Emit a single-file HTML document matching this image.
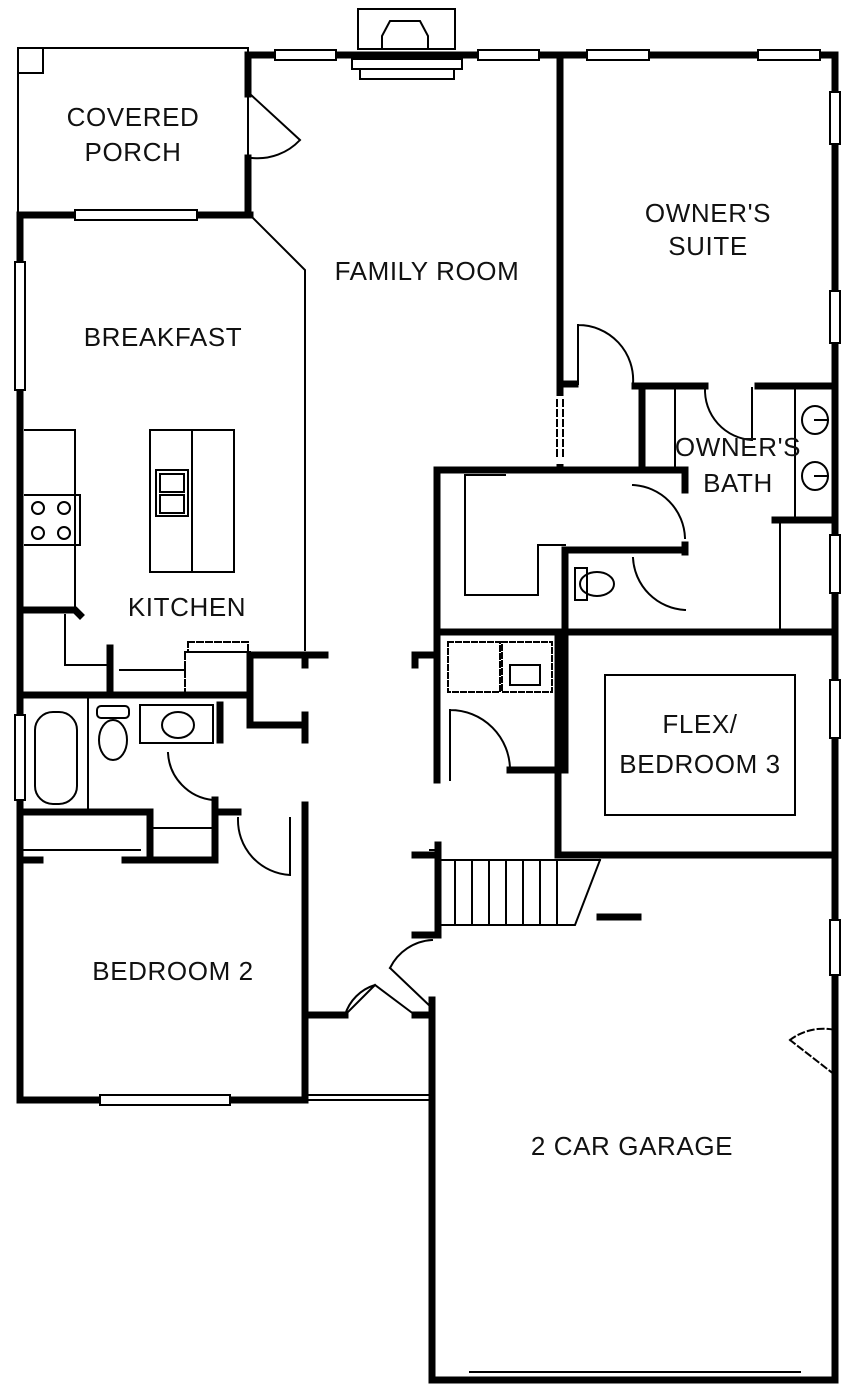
<!DOCTYPE html>
<html><head><style>
html,body{margin:0;padding:0;background:#fff}
svg{display:block}
text{font-family:"Liberation Sans",Arial,sans-serif;font-size:26px;letter-spacing:0.6px;fill:#111;text-anchor:middle}
</style></head><body>
<svg width="860" height="1389" viewBox="0 0 860 1389">
<g fill="none" stroke="#000" stroke-linecap="square">
<g stroke-width="7">
<path d="M248,55 H835 V1380"/>
<path d="M248,55 V94 M248,158 V215"/>
<path d="M20,215 H250"/>
<path d="M20,215 V1100"/>
<path d="M560,55 V468"/>
<path d="M560,384 H575 M635,386 H705 M758,386 H835"/>
<path d="M642,388 V470"/>
<path d="M437,470 H685 M437,470 V780 M685,470 V490 M685,545 V552"/>
<path d="M437,632 H835"/>
<path d="M565,550 H685 M565,550 V770 M510,770 H565"/>
<path d="M558,632 V855 M558,855 H835"/>
<path d="M415,855 H438 M438,845 V935 M438,935 H415 M600,917 H638"/>
<path d="M432,1000 V1380 M432,1380 H835"/>
<path d="M20,1100 H305 M305,805 V1100 M305,1015 H345 M415,1015 H432 M432,1000 V1015"/>
<path d="M20,695 H250 M250,655 V725 M220,705 V740 M250,655 H325 M255,725 H305 M305,715 V740 M305,655 V665 M415,655 V665 M432,655 H415"/>
<path d="M25,610 H75 L80,615 M110,648 V695"/>
<path d="M20,812 H150 V860 H215 V812 M215,812 V800 M20,860 H40 M125,860 H150"/>
<path d="M220,812 H238 M775,520 H835"/>
</g>
<g stroke-width="2">
<rect x="18" y="48" width="230" height="167"/>
<rect x="18" y="48" width="25" height="25"/>
<path d="M250,215 L305,270 V650"/>
<path d="M65,615 V665 H110"/>
<path d="M120,670 H185"/>
<rect x="185" y="652" width="65" height="42" stroke-dasharray="6,3"/>
<rect x="188" y="642" width="60" height="10" stroke-dasharray="6,3"/>
<path d="M25,430 H75 V610 M25,495 H80 V545 H25"/>
<circle cx="38" cy="508" r="6"/><circle cx="64" cy="508" r="6"/><circle cx="38" cy="533" r="6"/><circle cx="64" cy="533" r="6"/>
<rect x="150" y="430" width="84" height="142"/>
<path d="M192,430 V572"/>
<rect x="156" y="470" width="32" height="46"/>
<rect x="160" y="474" width="24" height="18"/><rect x="160" y="495" width="24" height="18"/>
<rect x="35" y="712" width="42" height="92" rx="18"/>
<path d="M88,698 V808"/>
<rect x="97" y="706" width="32" height="12" rx="4"/>
<ellipse cx="113" cy="740" rx="14" ry="20"/>
<rect x="140" y="705" width="73" height="38"/>
<ellipse cx="178" cy="725" rx="16" ry="13"/>
<path d="M168,753 A50,50 0 0 0 213,800"/>
<path d="M238,818 A55,55 0 0 0 290,875 V818"/>
<path d="M20,850 H140"/>
<path d="M150,828 H215"/>
<rect x="15" y="715" width="10" height="85" fill="#fff"/>
<rect x="15" y="262" width="10" height="128" fill="#fff"/>
<path d="M250,94 L300,140 M300,140 A58,58 0 0 1 252,158"/>
<rect x="358" y="9" width="97" height="40"/>
<path d="M382,48 V36 L390,21 H420 L428,36 V48"/>
<rect x="352" y="59" width="110" height="10"/>
<rect x="360" y="69" width="94" height="10"/>
<g fill="#fff">
<rect x="275" y="50" width="61" height="10"/><rect x="478" y="50" width="61" height="10"/>
<rect x="587" y="50" width="62" height="10"/><rect x="758" y="50" width="62" height="10"/>
<rect x="830" y="92" width="10" height="52"/><rect x="830" y="291" width="10" height="52"/>
<rect x="830" y="535" width="10" height="58"/><rect x="830" y="680" width="10" height="58"/>
<rect x="830" y="920" width="10" height="55"/>
<rect x="75" y="210" width="122" height="10"/><rect x="100" y="1095" width="130" height="10"/>
</g>
<path d="M560,400 V460" stroke="#fff" stroke-width="8"/>
<path d="M557,400 V460 M563,400 V460" stroke-dasharray="6,4"/>
<path d="M578,325 V384 M578,325 A55,55 0 0 1 633,384"/>
<path d="M705,388 A50,50 0 0 0 752,440 V388"/>
<path d="M675,388 V470"/>
<path d="M795,388 V520 M780,520 V632"/>
<path d="M633,485 A55,55 0 0 1 685,538"/>
<path d="M633,558 A55,55 0 0 0 685,610"/>
<ellipse cx="815" cy="420" rx="13" ry="14"/><ellipse cx="815" cy="476" rx="13" ry="14"/>
<path d="M815,420 H828 M815,476 H828"/>
<rect x="575" y="568" width="12" height="32"/><ellipse cx="597" cy="584" rx="17" ry="12"/>
<path d="M465,475 V595 H538 V545 H565 M465,475 H505"/>
<rect x="448" y="642" width="52" height="50" stroke-dasharray="5,3"/>
<rect x="502" y="642" width="50" height="50" stroke-dasharray="5,3"/>
<rect x="510" y="665" width="30" height="20"/>
<path d="M450,710 A60,60 0 0 1 510,770 M450,710 V780"/>
<rect x="605" y="675" width="190" height="140"/>
<path d="M438,860 H600 M438,925 H575 L600,860"/>
<path d="M455,860 V925 M472,860 V925 M489,860 V925 M506,860 V925 M523,860 V925 M540,860 V925 M557,860 V925"/>
<path d="M430,850 H440 M430,935 H440"/>
<path d="M345,1015 L375,985 L415,1015 M345,1015 A45,45 0 0 1 375,985 M390,968 L432,1008 M390,968 A50,50 0 0 1 432,940"/>
<path d="M305,1095 H432 M305,1100 H432"/>
<path d="M470,1372 H800 M470,1378 H800"/>
<path d="M790,1040 L835,1075 M790,1040 A55,55 0 0 1 835,1030" stroke-dasharray="6,4"/>
</g>
</g>
<text x="133" y="126">COVERED</text><text x="133" y="161">PORCH</text>
<text x="427" y="280">FAMILY ROOM</text>
<text x="708" y="222">OWNER'S</text><text x="708" y="255">SUITE</text>
<text x="163" y="346">BREAKFAST</text>
<text x="738" y="456">OWNER'S</text><text x="738" y="492">BATH</text>
<text x="187" y="616">KITCHEN</text>
<text x="700" y="733">FLEX/</text><text x="700" y="773">BEDROOM 3</text>
<text x="173" y="980">BEDROOM 2</text>
<text x="632" y="1155">2 CAR GARAGE</text>
</svg>
</body></html>
